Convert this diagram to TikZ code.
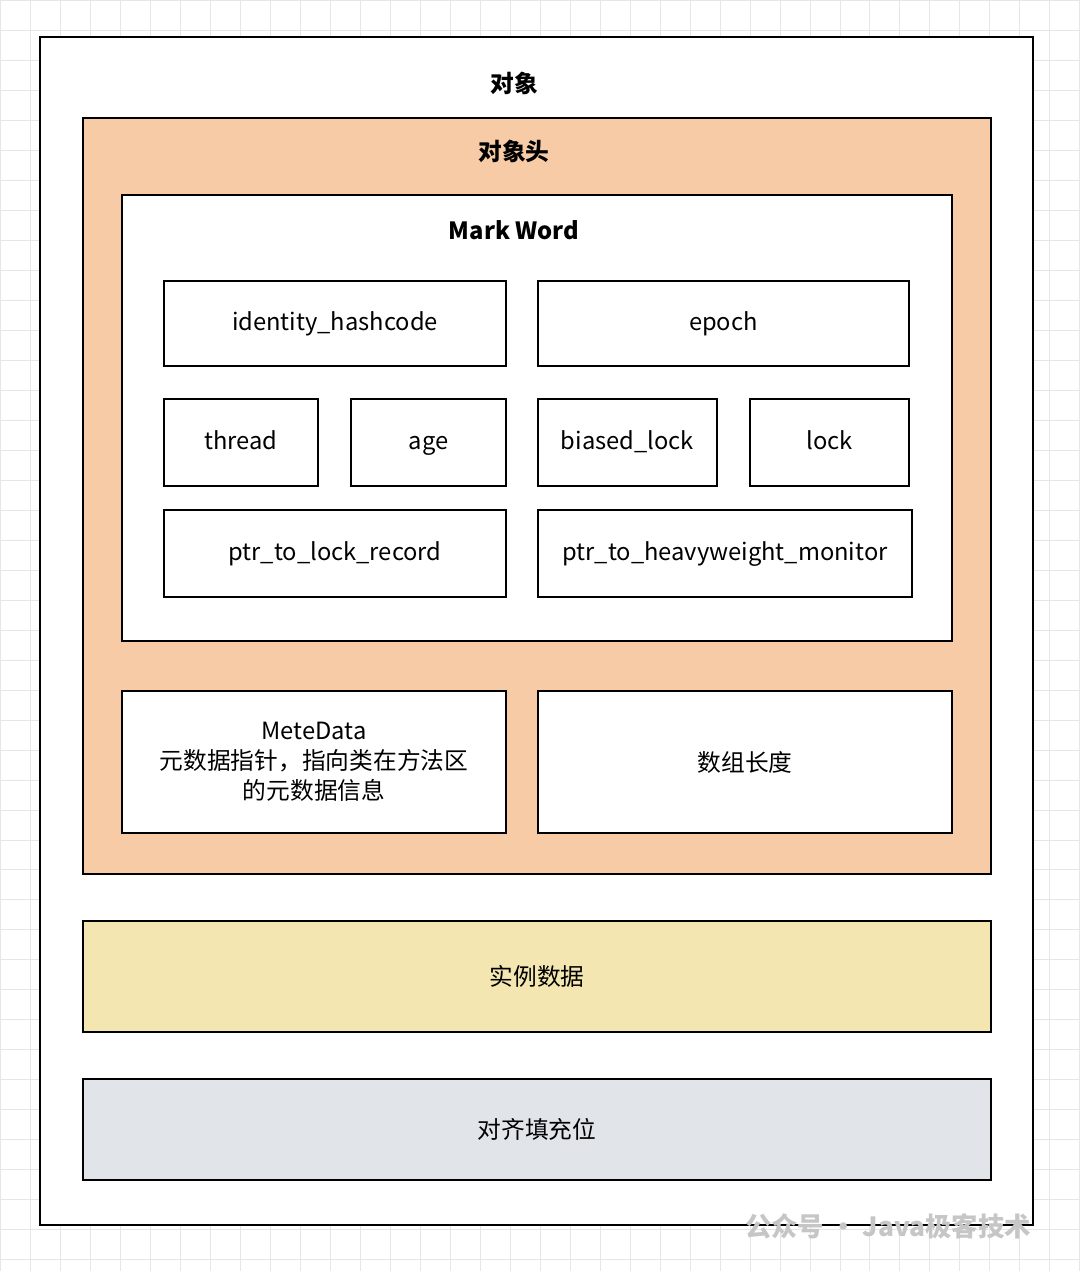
\documentclass[tikz,border=0pt]{standalone}
\usepackage{fontspec}
\setmainfont{Noto Sans CJK SC}
\usetikzlibrary{positioning}
\definecolor{headfill}{HTML}{F6CBA5}
\definecolor{datafill}{HTML}{F4E6B1}
\definecolor{padfill}{HTML}{E1E4E8}
\definecolor{gridline}{HTML}{E6E6E6}
\begin{document}
\begin{tikzpicture}[x=0.02cm,y=-0.02cm,
    box/.style={rectangle, draw, line width=1.1pt, align=center, inner sep=0pt,
                font=\fontsize{13.5}{17}\selectfont},
    lbl/.style={text height=2.2ex, text depth=0.7ex},
    title/.style={font=\fontsize{13.5}{17}\selectfont\bfseries}
]
\useasboundingbox (0,0) rectangle (1080,1271);
\fill[white] (0,0) rectangle (1080,1271);
\draw[gridline, step=0.6cm] (0cm,-25.42cm) grid (21.6cm,0cm);

\node[box, fill=white, minimum width=19.86cm, minimum height=23.76cm] (obj) at (536.5,631) {};
\node[title] (objt) at (514,83) {对象};
\node[box, fill=headfill, minimum width=18.16cm, minimum height=15.12cm] (head) at (537,496) {};
\node[title] (headt) at (514,151) {对象头};
\node[box, fill=white, minimum width=16.6cm, minimum height=8.92cm] (mark) at (537,418) {};
\node[title] (markt) at (514,230) {Mark Word};

\node[box, lbl, minimum width=6.84cm, minimum height=1.7cm] (hash) at (335,323.5) {identity\_hashcode};
\node[box, lbl, minimum width=7.42cm, minimum height=1.7cm] (epoch) at (723.5,323.5) {epoch};
\node[box, lbl, minimum width=3.08cm, minimum height=1.74cm] (thread) at (241,442.5) {thread};
\node[box, lbl, minimum width=3.1cm, minimum height=1.74cm] (age) at (428.5,442.5) {age};
\node[box, lbl, minimum width=3.58cm, minimum height=1.74cm] (biased) at (627.5,442.5) {biased\_lock};
\node[box, lbl, minimum width=3.18cm, minimum height=1.74cm] (lock) at (829.5,442.5) {lock};
\node[box, lbl, minimum width=6.84cm, minimum height=1.74cm] (ptrlock) at (335,553.5) {ptr\_to\_lock\_record};
\node[box, lbl, minimum width=7.48cm, minimum height=1.74cm] (ptrheavy) at (725,553.5) {ptr\_to\_heavyweight\_monitor};

\node[box, fill=white, minimum width=7.68cm, minimum height=2.84cm] (meta) at (314,762) {MeteData\\元数据指针，指向类在方法区\\的元数据信息};
\node[box, fill=white, minimum width=8.28cm, minimum height=2.84cm] (arrlen) at (745,762) {数组长度};

\node[box, fill=datafill, minimum width=18.16cm, minimum height=2.22cm] (inst) at (537,976.5) {实例数据};
\node[box, fill=padfill, minimum width=18.16cm, minimum height=2.02cm] (pad) at (537,1129.5) {对齐填充位};

\node[text=gray!45, font=\fontsize{15}{18}\selectfont\bfseries] (mark2) at (888,1226) {公众号 · Java极客技术};
\end{tikzpicture}
\end{document}
